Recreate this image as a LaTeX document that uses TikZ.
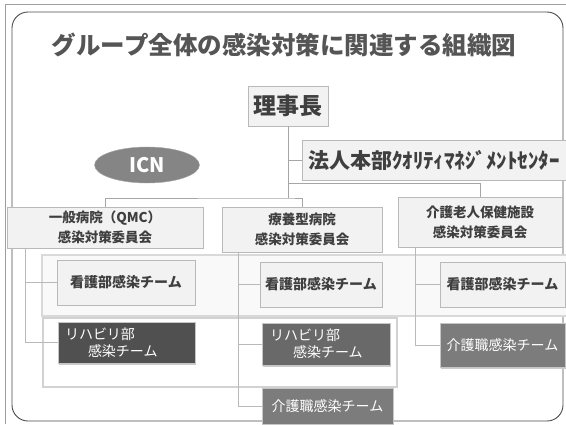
\documentclass[tikz,border=0pt]{standalone}
\usepackage{fontspec}
\newfontfamily\jp{Noto Sans CJK JP}
\usetikzlibrary{shapes.geometric,shadows}
\definecolor{txt}{HTML}{3F3F3F}
\definecolor{ttl}{HTML}{555555}
\definecolor{dkA}{HTML}{505050}
\definecolor{dkB}{HTML}{696969}
\definecolor{dkC}{HTML}{7C7C7C}
\definecolor{icnc}{HTML}{858585}
\begin{document}
\begin{tikzpicture}[x=1pt,y=-1pt,
  lbox/.style={draw=gray!55, fill=gray!10, line width=0.6pt, inner sep=0pt, align=center,
    text=txt, font=\jp\bfseries\fontsize{13.5}{20}\selectfont,
    drop shadow={shadow xshift=1.2pt, shadow yshift=-1.2pt, fill=gray!60, opacity=0.9}},
  tbox/.style={lbox, font=\jp\bfseries\fontsize{14}{17}\selectfont},
  dbox/.style={draw=gray!45, fill=#1, line width=0.6pt, inner sep=0pt, text=white,
    font=\jp\fontsize{14}{17}\selectfont,
    drop shadow={shadow xshift=1pt, shadow yshift=-1.5pt, fill=gray!45, opacity=0.9}},
  trunk/.style={draw=gray!70, line width=0.6pt},
  conn/.style={draw=gray!55, line width=0.5pt},
]
\useasboundingbox (0,0) rectangle (566,424);
\fill[white] (0,0) rectangle (566,424);
% frames
\draw[gray!75, line width=0.6pt] (5,424) -- (5,4) -- (566,4);
\draw[black!70, line width=0.9pt, rounded corners=16pt] (12,12) rectangle (563,421);

% title
\node[text=ttl, font=\jp\bfseries\fontsize{24.5}{28}\selectfont] (title) at (284,45) {グループ全体の感染対策に関連する組織図};

% bands
\draw[draw=gray!30, fill=gray!5, line width=2.4pt] (42,255) rectangle (568,316);
\draw[draw=gray!35, fill=white, line width=1.8pt] (43,318) rectangle (397,387);

% top nodes
\node[lbox, minimum width=80pt, minimum height=40pt, font=\jp\bfseries\fontsize{23}{26}\selectfont] (rijicho) at (288,106) {理事長};
\node[lbox, minimum width=264pt, minimum height=40pt, text width=252pt, inner xsep=6pt, align=left,
  font=\jp\bfseries\fontsize{21}{24}\selectfont] (hojin) at (434,160) {法人本部ｸｵﾘﾃｨﾏﾈｼﾞﾒﾝﾄｾﾝﾀｰ};
\node[ellipse, fill=icnc, draw=gray!70, minimum width=105pt, minimum height=36pt, inner sep=0pt,
  text=white, font=\jp\bfseries\fontsize{20}{22}\selectfont] (icn) at (147,165) {ICN};

% committees
\node[lbox, minimum width=196pt, minimum height=41pt] (ippan) at (105,227.5) {一般病院（QMC）\\感染対策委員会};
\node[lbox, minimum width=160pt, minimum height=45pt] (ryoyo) at (302,229.5) {療養型病院\\感染対策委員会};
\node[lbox, minimum width=164pt, minimum height=50pt] (kaigo) at (480,222) {介護老人保健施設\\感染対策委員会};

% connectors (top)
\coordinate (b1) at (288,183);
\coordinate (bus) at (288,198);
\draw[trunk] (rijicho.south) -- (bus);
\draw[trunk] (hojin.west) -- (hojin.west -| rijicho.south);
\draw[trunk] (b1) -| (kaigo.north);
\draw[trunk] (ippan.north) |- (bus) -| (ryoyo.north);

% teams
\node[tbox, minimum width=138pt, minimum height=45pt] (kango1) at (126,282.5) {看護部感染チーム};
\node[dbox=dkA, minimum width=137pt, minimum height=41pt, text width=123pt, align=left] (riha1) at (126.5,342.5) {リハビリ部\\\hspace*{23pt}感染チーム};
\node[tbox, minimum width=122pt, minimum height=45pt] (kango2) at (321,284.5) {看護部感染チーム};
\node[dbox=dkB, minimum width=128pt, minimum height=42pt, text width=112pt, align=left] (riha2) at (326,344) {リハビリ部\\\hspace*{23pt}感染チーム};
\node[dbox=dkC, minimum width=131pt, minimum height=36pt] (kaigo2) at (327.5,406) {介護職感染チーム};
\node[tbox, minimum width=125pt, minimum height=45pt] (kango3) at (502.5,284.5) {看護部感染チーム};
\node[dbox=dkC, minimum width=125pt, minimum height=44pt] (kaigo3) at (502.5,345) {介護職感染チーム};

% group connectors
\coordinate (l1) at ([xshift=19pt]ippan.south west);
\coordinate (m1) at ([xshift=17pt]ryoyo.south west);
\coordinate (r1) at ([xshift=18pt]kaigo.south west);
\draw[conn] (l1) |- (riha1.west);
\draw[conn] (l1 |- kango1.west) -- (kango1.west);
\draw[conn] (m1) |- (kaigo2.west);
\draw[conn] (m1 |- kango2.west) -- (kango2.west);
\draw[conn] (m1 |- riha2.west) -- (riha2.west);
\draw[conn] (r1) |- (kaigo3.west);
\draw[conn] (r1 |- kango3.west) -- (kango3.west);
\end{tikzpicture}
\end{document}
